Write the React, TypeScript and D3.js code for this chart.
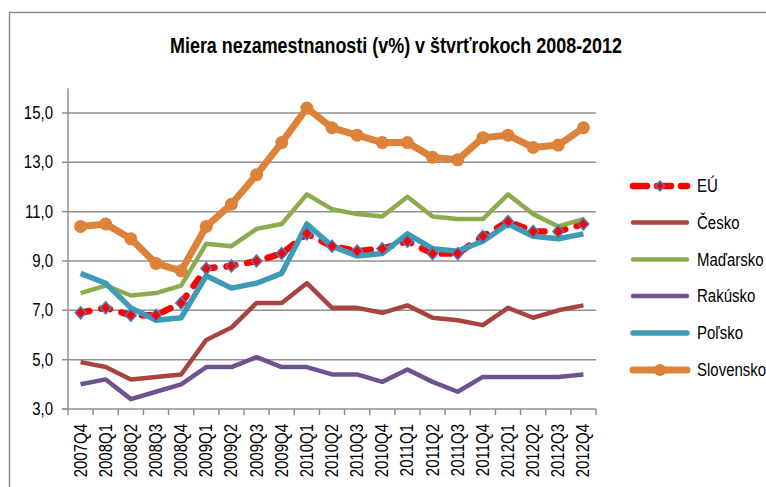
import React from "react";
import * as d3 from "d3";

const categories = ["2007Q4","2008Q1","2008Q2","2008Q3","2008Q4","2009Q1","2009Q2","2009Q3","2009Q4","2010Q1","2010Q2","2010Q3","2010Q4","2011Q1","2011Q2","2011Q3","2011Q4","2012Q1","2012Q2","2012Q3","2012Q4"];

const eu = [6.9,7.1,6.8,6.8,7.3,8.7,8.8,9.0,9.3,10.1,9.6,9.4,9.5,9.8,9.3,9.3,10.0,10.6,10.2,10.2,10.5];
const cesko = [4.9,4.7,4.2,4.3,4.4,5.8,6.3,7.3,7.3,8.1,7.1,7.1,6.9,7.2,6.7,6.6,6.4,7.1,6.7,7.0,7.2];
const madarsko = [7.7,8.0,7.6,7.7,8.0,9.7,9.6,10.3,10.5,11.7,11.1,10.9,10.8,11.6,10.8,10.7,10.7,11.7,10.9,10.4,10.7];
const rakusko = [4.0,4.2,3.4,3.7,4.0,4.7,4.7,5.1,4.7,4.7,4.4,4.4,4.1,4.6,4.1,3.7,4.3,4.3,4.3,4.3,4.4];
const polsko = [8.5,8.1,7.1,6.6,6.7,8.4,7.9,8.1,8.5,10.5,9.6,9.2,9.3,10.1,9.5,9.4,9.8,10.5,10.0,9.9,10.1];
const slovensko = [10.4,10.5,9.9,8.9,8.6,10.4,11.3,12.5,13.8,15.2,14.4,14.1,13.8,13.8,13.2,13.1,14.0,14.1,13.6,13.7,14.4];

const yTicks = [3, 5, 7, 9, 11, 13, 15];
const title = "Miera nezamestnanosti (v%) v štvrťrokoch 2008-2012";

const seriesNames = ["EÚ","Česko","Maďarsko","Rakúsko","Poľsko","Slovensko"];

const FONT = "'Liberation Sans', Arial, sans-serif";
const SX = 0.81;

export default function App() {
  const left = 68, right = 596, top = 88.3, bottom = 409;
  const x = d3.scaleBand<string>().domain(categories).range([left, right]).paddingInner(0).paddingOuter(0);
  const bw = x.bandwidth();
  const cx = (c: string) => (x(c) as number) + bw / 2;
  const y = d3.scaleLinear().domain([3, 16]).range([bottom, top]);

  const line = d3.line<number>().x((_, i) => cx(categories[i])).y((d) => y(d));

  const styles = [
    { data: eu, color: "#ff0000", width: 6.5, dash: "9 12" },
    { data: cesko, color: "#a8443f", width: 4.5 },
    { data: madarsko, color: "#8cab4e", width: 4.5 },
    { data: rakusko, color: "#6e548e", width: 4.5 },
    { data: polsko, color: "#3f9bb5", width: 5.5 },
    { data: slovensko, color: "#dd823a", width: 7 },
  ];

  const diamond = (px: number, py: number, r: number) =>
    `M${px},${py - r}L${px + r * 0.9},${py}L${px},${py + r}L${px - r * 0.9},${py}Z`;

  const legendY = [186, 222.5, 259.5, 296, 333, 370];
  const gridColor = "#8f8f8f";

  return (
    <svg width={766} height={487} style={{ position: "absolute", left: 0, top: 0, background: "#fff" }}>
      <rect x={9.5} y={12.5} width={800} height={520} fill="none" stroke="#8c8c8c" strokeWidth={1.5} />
      <text
        x={396}
        y={53}
        textAnchor="middle"
        fontFamily={FONT}
        fontWeight="bold"
        fontSize={22}
        textLength={452}
        lengthAdjust="spacingAndGlyphs"
        fill="#000"
      >
        {title}
      </text>

      {/* gridlines */}
      {yTicks.filter((t) => t > 3).map((t) => (
        <line key={"g" + t} x1={left} x2={right} y1={y(t)} y2={y(t)} stroke={gridColor} strokeWidth={1.5} />
      ))}
      {/* y ticks */}
      {yTicks.map((t) => (
        <line key={"yt" + t} x1={left - 6} x2={left} y1={y(t)} y2={y(t)} stroke={gridColor} strokeWidth={1.5} />
      ))}
      <line x1={left} x2={left} y1={top} y2={bottom} stroke={gridColor} strokeWidth={1.5} />
      <line x1={left - 6} x2={right} y1={bottom} y2={bottom} stroke={gridColor} strokeWidth={1.5} />
      {/* x ticks */}
      {d3.range(categories.length + 1).map((i) => (
        <line key={"xt" + i} x1={left + i * bw} x2={left + i * bw} y1={bottom} y2={bottom + 6} stroke={gridColor} strokeWidth={1.5} />
      ))}

      {/* y labels */}
      {yTicks.map((t) => (
        <text
          key={"yl" + t}
          transform={`translate(${53},${y(t)}) scale(${SX},1)`}
          textAnchor="end"
          dominantBaseline="central"
          fontFamily={FONT}
          fontSize={18.5}
          fill="#000"
        >
          {d3.format(".1f")(t).replace(".", ",")}
        </text>
      ))}
      {/* x labels */}
      {categories.map((c) => (
        <text
          key={"xl" + c}
          transform={`translate(${cx(c)},${424}) rotate(-90) scale(${SX},1)`}
          textAnchor="end"
          dominantBaseline="central"
          fontFamily={FONT}
          fontSize={18.5}
          fill="#000"
        >
          {c}
        </text>
      ))}

      {/* lines */}
      {styles.map((s, i) => (
        <path
          key={"l" + i}
          d={line(s.data) as string}
          fill="none"
          stroke={s.color}
          strokeWidth={s.width}
          strokeDasharray={s.dash}
          strokeLinecap={s.dash ? "round" : "butt"}
          strokeLinejoin="round"
        />
      ))}
      {/* EU markers */}
      {eu.map((v, i) => (
        <path key={"em" + i} d={diamond(cx(categories[i]), y(v), 6)} fill="#ff0000" stroke="#4a7ebb" strokeWidth={1.5} />
      ))}
      {/* Slovensko markers */}
      {slovensko.map((v, i) => (
        <circle key={"sm" + i} cx={cx(categories[i])} cy={y(v)} r={6.5} fill="#dd823a" />
      ))}

      {/* legend */}
      {seriesNames.map((n, i) => {
        const s = styles[i];
        const ly = legendY[i];
        return (
          <g key={"lg" + i}>
            <line
              x1={633}
              x2={687}
              y1={ly}
              y2={ly}
              stroke={s.color}
              strokeWidth={s.width}
              strokeDasharray={s.dash ? "14 10" : undefined}
              strokeLinecap="round"
            />
            {i === 0 && <path d={diamond(660, ly, 5)} fill="#ff0000" stroke="#4a7ebb" strokeWidth={1.5} />}
            {i === 5 && <circle cx={660} cy={ly} r={6} fill={s.color} />}
            <text
              transform={`translate(${697},${ly}) scale(${SX},1)`}
              dominantBaseline="central"
              fontFamily={FONT}
              fontSize={18.5}
              fill="#000"
            >
              {n}
            </text>
          </g>
        );
      })}
    </svg>
  );
}
